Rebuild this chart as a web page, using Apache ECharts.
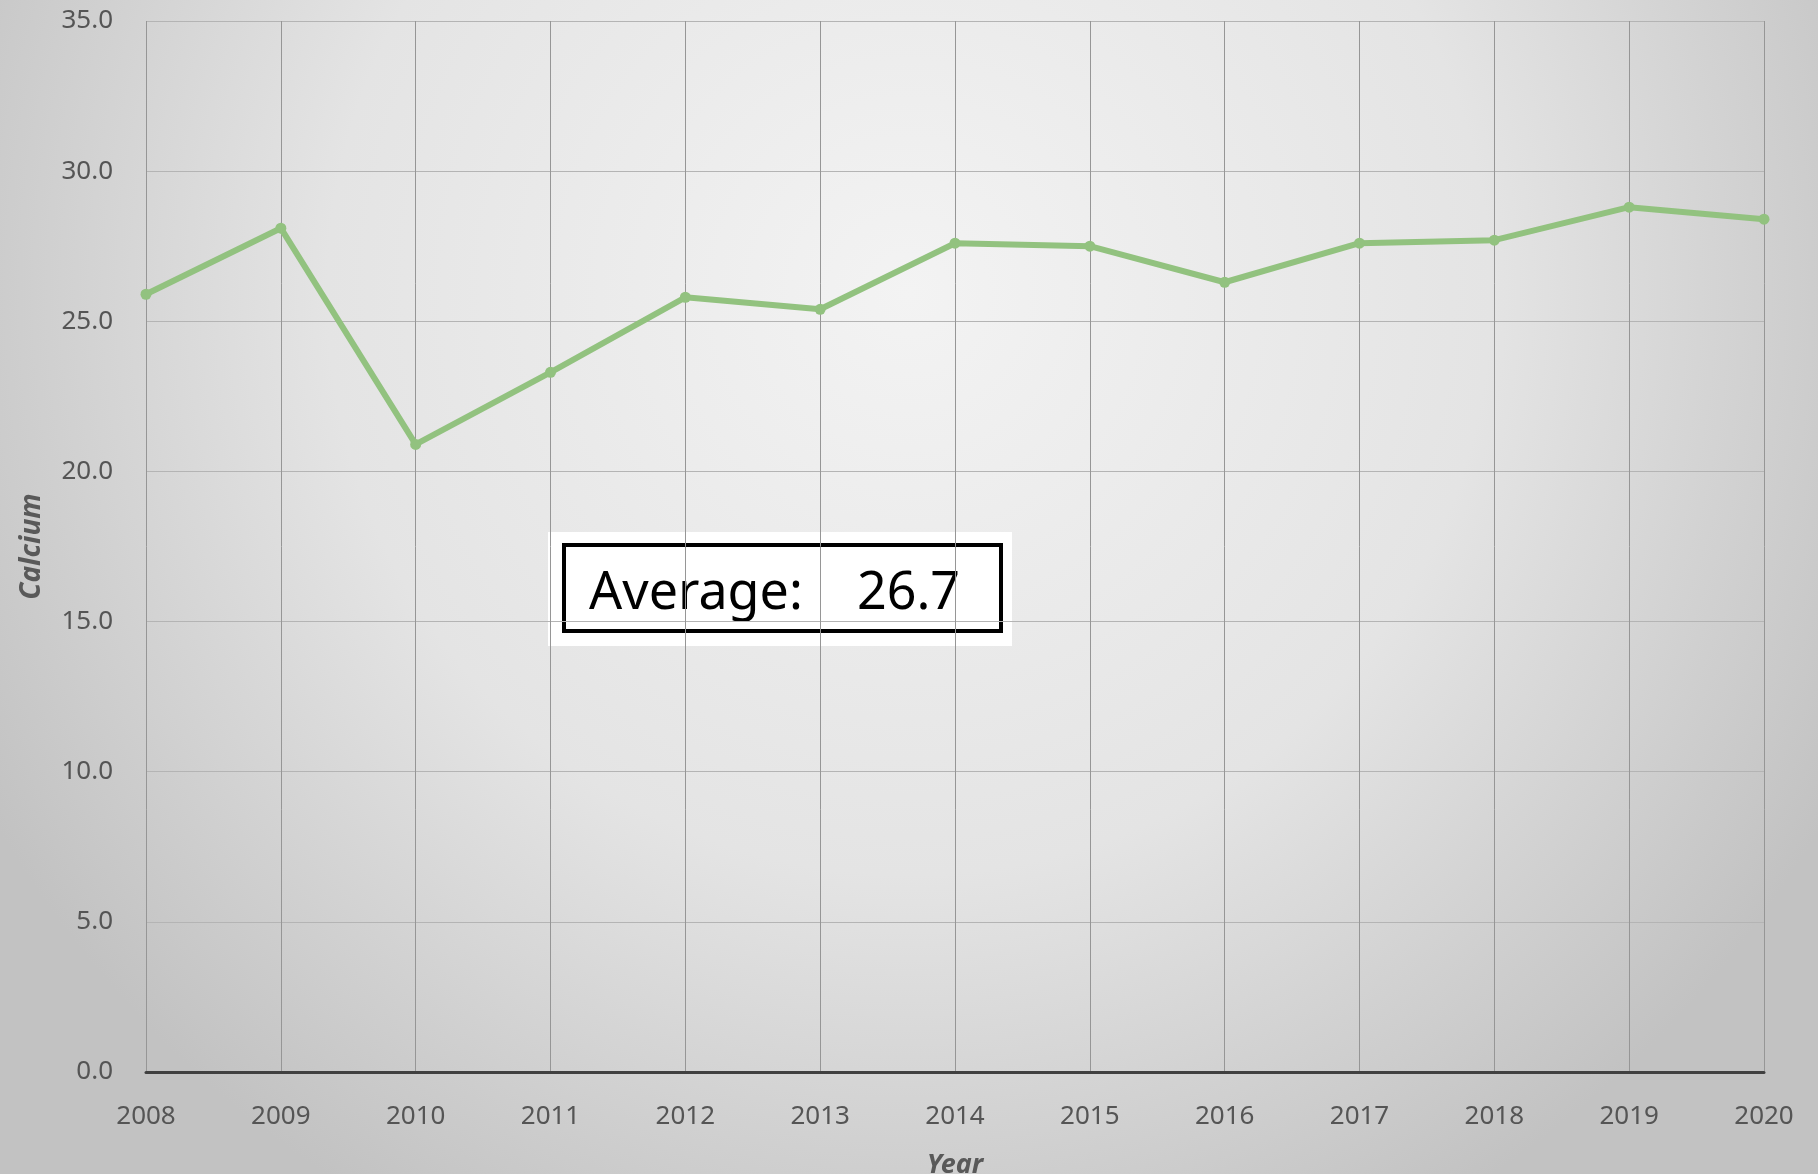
<!DOCTYPE html>
<html>
<head>
<meta charset="utf-8">
<script src="https://cdn.jsdelivr.net/npm/echarts@6/dist/echarts.min.js"></script>
<style>
html,body{margin:0;padding:0;overflow:hidden;}
#main{width:1818px;height:1174px;}
</style>
</head>
<body>
<div id="main"></div>
<script>
const years = ['2008','2009','2010','2011','2012','2013','2014','2015','2016','2017','2018','2019','2020'];
const calcium = [25.9, 28.1, 20.9, 23.3, 25.8, 25.4, 27.6, 27.5, 26.3, 27.6, 27.7, 28.8, 28.4];
const yTicks = [0, 5, 10, 15, 20, 25, 30, 35];
const averageText = 'Average:    26.7';

const chart = echarts.init(document.getElementById('main'));
chart.setOption({
  animation: false,
  backgroundColor: {
    type: 'radial', x: 0.5, y: 0.25, r: 0.9,
    colorStops: [
      {offset: 0, color: '#f3f3f3'},
      {offset: 0.55, color: '#e4e4e4'},
      {offset: 1, color: '#c2c2c2'}
    ]
  },
  grid: {left: 146, right: 54, top: 21, bottom: 102, containLabel: false, outerBoundsMode: 'none'},
  xAxis: {
    type: 'category',
    data: years,
    boundaryGap: false,
    name: 'Year',
    nameLocation: 'middle',
    nameGap: 80,
    nameMoveOverlap: false,
    nameTextStyle: {fontFamily: 'Noto Sans', fontSize: 27, fontWeight: 'bold', fontStyle: 'italic', color: '#595959'},
    axisLine: {show: true, lineStyle: {color: '#404040', width: 3}},
    axisTick: {show: false},
    axisLabel: {fontFamily: 'Noto Sans', fontSize: 26, color: '#555555', margin: 32},
    splitLine: {show: true, lineStyle: {color: '#969696', width: 1}}
  },
  yAxis: {
    type: 'value',
    min: yTicks[0],
    max: yTicks[yTicks.length - 1],
    interval: yTicks[1] - yTicks[0],
    name: 'Calcium',
    nameLocation: 'middle',
    nameGap: 100,
    nameMoveOverlap: false,
    nameTextStyle: {fontFamily: 'Noto Sans', fontSize: 28, fontWeight: 'bold', fontStyle: 'italic', color: '#595959'},
    axisLine: {show: false},
    axisTick: {show: false},
    axisLabel: {fontFamily: 'Noto Sans', fontSize: 26, color: '#555555', margin: 33, formatter: v => v.toFixed(1)},
    splitLine: {show: true, lineStyle: {color: '#b4b4b4', width: 1}}
  },
  series: [{
    type: 'line',
    data: calcium,
    symbol: 'circle',
    symbolSize: 11,
    lineStyle: {color: '#92c27f', width: 6},
    itemStyle: {color: '#92c27f'}
  }],
  graphic: [
    {type: 'rect', shape: {x: 548, y: 532, width: 464, height: 114}, style: {fill: '#ffffff'}},
    {type: 'rect', shape: {x: 564, y: 545, width: 437, height: 86}, style: {fill: '#ffffff', stroke: '#000000', lineWidth: 4}},
    {type: 'text', x: 589, y: 594, style: {text: averageText, fontFamily: 'Noto Sans', fontSize: 52, fill: '#000000', verticalAlign: 'middle', align: 'left'}}
  ]
});
</script>
</body>
</html>
